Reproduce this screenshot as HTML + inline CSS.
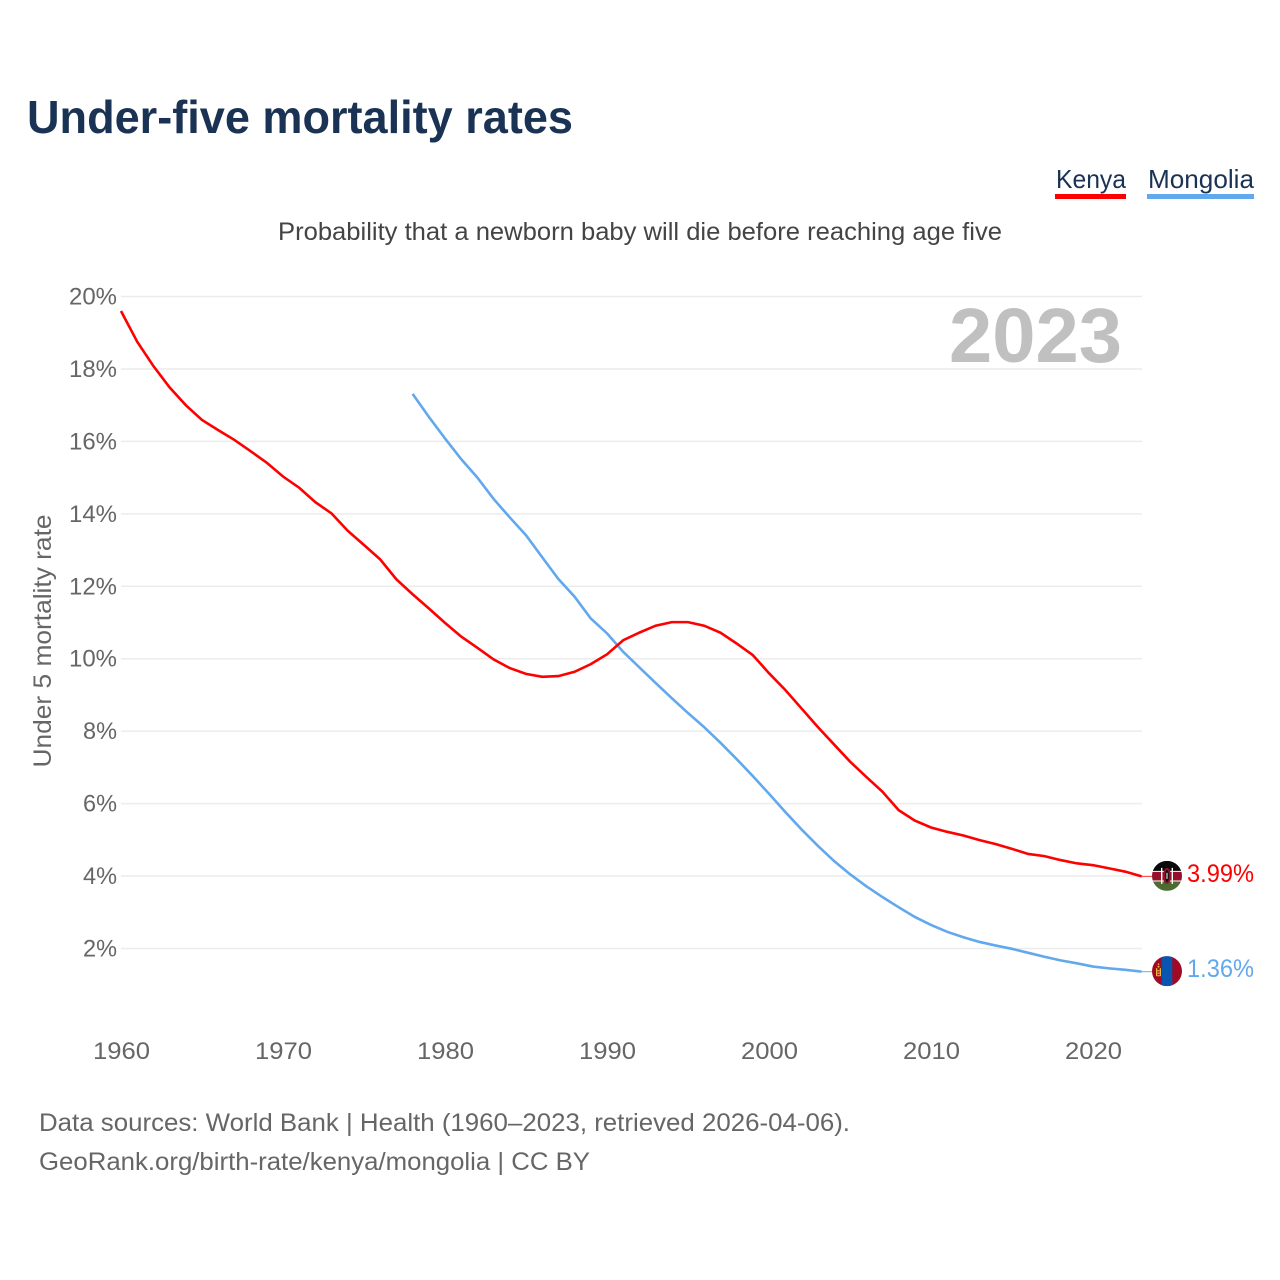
<!DOCTYPE html>
<html lang="en">
<head>
<meta charset="utf-8">
<title>Under-five mortality rates</title>
<style>
html,body{margin:0;padding:0;background:#fff;width:1280px;height:1280px;overflow:hidden}
svg{display:block}
text{font-family:"Liberation Sans",sans-serif}
</style>
</head>
<body>
<svg id="chart" xmlns="http://www.w3.org/2000/svg" width="1280" height="1280" viewBox="0 0 1280 1280">
  <rect width="1280" height="1280" fill="#fff"/>
  <defs>
    <clipPath id="flag-clip"><circle cx="0" cy="0" r="15"/></clipPath>
  </defs>
  <text x="27" y="133" font-size="46" font-weight="700" fill="#1a3354" textLength="546" lengthAdjust="spacingAndGlyphs">Under-five mortality rates</text>

  <g>
    <text x="1056" y="188" font-size="26" fill="#1a3354" textLength="70" lengthAdjust="spacingAndGlyphs">Kenya</text>
    <rect x="1055" y="194" width="71" height="5" fill="#ff0000"/>
  </g>
  <g>
    <text x="1148" y="188" font-size="26" fill="#1a3354" textLength="106" lengthAdjust="spacingAndGlyphs">Mongolia</text>
    <rect x="1147" y="194" width="107" height="5" fill="#62a8ee"/>
  </g>

  <text x="278" y="240" font-size="25" fill="#444" textLength="724" lengthAdjust="spacingAndGlyphs">Probability that a newborn baby will die before reaching age five</text>

  <g id="grid"></g>
  <g id="y-ticks"></g>
  <g id="x-ticks"></g>

  <text transform="translate(51,641) rotate(-90)" text-anchor="middle" font-size="25" fill="#666" textLength="253" lengthAdjust="spacingAndGlyphs">Under 5 mortality rate</text>

  <text x="949" y="362" font-size="77" font-weight="700" fill="#c0c0c0" textLength="173" lengthAdjust="spacingAndGlyphs">2023</text>

  <g id="series"></g>

  <g id="flag-kenya">
    <g clip-path="url(#flag-clip)">
      <rect x="-15" y="-15" width="30" height="30" fill="#fff"/>
      <rect x="-15" y="-15" width="30" height="10" fill="#0a0a0a"/>
      <rect x="-15" y="-4" width="30" height="8.6" fill="#96102c"/>
      <rect x="-15" y="5.6" width="30" height="9.4" fill="#4c6b30"/>
      <rect x="-6" y="-8" width="1.4" height="16" fill="#fff"/>
      <rect x="4.6" y="-8" width="1.4" height="16" fill="#fff"/>
      <ellipse cx="0" cy="0" rx="4" ry="8" fill="#96102c"/>
      <ellipse cx="0" cy="0" rx="2" ry="6" fill="#111"/>
      <rect x="-0.5" y="-3" width="1" height="6" fill="#fff"/>
    </g>
  </g>
  <g id="flag-mongolia">
    <g clip-path="url(#flag-clip)">
      <rect x="-15" y="-15" width="30" height="30" fill="#a00a25"/>
      <rect x="-5.3" y="-15" width="10.6" height="30" fill="#0a55b0"/>
      <rect x="-11" y="-3" width="1.3" height="8" fill="#e8b83c"/>
      <rect x="-7.3" y="-3" width="1.3" height="8" fill="#e8b83c"/>
      <rect x="-9.5" y="-1" width="2" height="1.2" fill="#e8b83c"/>
      <rect x="-9.5" y="1.5" width="2" height="1.2" fill="#e8b83c"/>
      <rect x="-9.5" y="4" width="2" height="1.2" fill="#e8b83c"/>
      <circle cx="-8.5" cy="-4.5" r="1" fill="#e8b83c"/>
      <circle cx="-8.5" cy="-7" r="0.8" fill="#e8b83c"/>
    </g>
  </g>

  <text id="value-kenya" x="1187" font-size="25" fill="#ff0000" textLength="67" lengthAdjust="spacingAndGlyphs"></text>
  <text id="value-mongolia" x="1187" font-size="25" fill="#62a8ee" textLength="67" lengthAdjust="spacingAndGlyphs"></text>

  <text x="39" y="1131" font-size="25" fill="#666" textLength="811" lengthAdjust="spacingAndGlyphs">Data sources: World Bank | Health (1960–2023, retrieved 2026-04-06).</text>
  <text x="39" y="1170" font-size="25" fill="#666" textLength="551" lengthAdjust="spacingAndGlyphs">GeoRank.org/birth-rate/kenya/mongolia | CC BY</text>
</svg>
<script>
const kenyaStartYear = 1960;
const kenyaValues = [19.6,18.75,18.08,17.49,17.0,16.59,16.31,16.04,15.73,15.41,15.03,14.72,14.32,14.01,13.53,13.14,12.74,12.19,11.78,11.39,10.99,10.61,10.3,9.98,9.74,9.58,9.5,9.52,9.64,9.85,10.12,10.51,10.72,10.91,11.01,11.01,10.91,10.72,10.42,10.1,9.6,9.14,8.63,8.12,7.64,7.16,6.74,6.33,5.82,5.53,5.34,5.22,5.12,4.99,4.88,4.75,4.61,4.55,4.44,4.35,4.30,4.21,4.12,3.99];
const mongoliaStartYear = 1978;
const mongoliaValues = [17.31,16.68,16.08,15.51,15.0,14.41,13.9,13.41,12.8,12.2,11.71,11.11,10.7,10.19,9.76,9.33,8.91,8.5,8.11,7.68,7.23,6.76,6.27,5.77,5.29,4.84,4.42,4.05,3.72,3.42,3.14,2.87,2.65,2.46,2.31,2.18,2.08,1.99,1.88,1.77,1.67,1.59,1.5,1.45,1.41,1.36];
const yTickValues = [2,4,6,8,10,12,14,16,18,20];
const yTickLabels = ["2%","4%","6%","8%","10%","12%","14%","16%","18%","20%"];
const xTickValues = [1960,1970,1980,1990,2000,2010,2020];
const xTickLabels = ["1960","1970","1980","1990","2000","2010","2020"];

const SVG_NS = 'http://www.w3.org/2000/svg';
const PLOT_LEFT = 121, PX_PER_YEAR = 16.2, Y_TOP = 296.5, PX_PER_UNIT = 36.22, PLOT_RIGHT = 1142, TAIL_END = 1152;
function xScale(year){ return PLOT_LEFT + (year - 1960) * PX_PER_YEAR; }
function yScale(v){ return Y_TOP + (20 - v) * PX_PER_UNIT; }
function make(tag, parent){ const el = document.createElementNS(SVG_NS, tag); parent.appendChild(el); return el; }

const gridGroup = document.getElementById('grid');
const yTickGroup = document.getElementById('y-ticks');
yTickValues.forEach(function(v, i){
  const line = make('line', gridGroup);
  
  
  line.setAttribute('x1', PLOT_LEFT);
  line.setAttribute('x2', PLOT_RIGHT);
  line.setAttribute('y1', yScale(v));
  line.setAttribute('y2', yScale(v));
  line.setAttribute('stroke', '#ececec');
  line.setAttribute('stroke-width', '1.5');
  const t = make('text', yTickGroup);
  
  
  t.setAttribute('x', 117);
  t.setAttribute('y', yScale(v) + 8);
  t.setAttribute('text-anchor', 'end');
  t.setAttribute('font-size', '24.5');
  t.setAttribute('fill', '#666');
  t.setAttribute('textLength', yTickLabels[i].length === 3 ? 48 : 34);
  t.setAttribute('lengthAdjust', 'spacingAndGlyphs');
  t.textContent = yTickLabels[i];
});

const xTickGroup = document.getElementById('x-ticks');
xTickValues.forEach(function(year, i){
  const t = make('text', xTickGroup);
  
  
  t.setAttribute('x', xScale(year) + 0.5);
  t.setAttribute('y', 1059);
  t.setAttribute('text-anchor', 'middle');
  t.setAttribute('font-size', '24.5');
  t.setAttribute('fill', '#666');
  t.setAttribute('textLength', 57);
  t.setAttribute('lengthAdjust', 'spacingAndGlyphs');
  t.textContent = xTickLabels[i];
});

function linePath(startYear, values){
  return values.map(function(v, i){
    return (i ? 'L' : 'M') + xScale(startYear + i).toFixed(2) + ' ' + yScale(v).toFixed(2);
  }).join(' ');
}

const seriesGroup = document.getElementById('series');

const kenyaLast = kenyaValues[kenyaValues.length - 1];
const mongoliaLast = mongoliaValues[mongoliaValues.length - 1];

const kenyaTail = make('line', seriesGroup);


kenyaTail.setAttribute('x1', xScale(kenyaStartYear + kenyaValues.length - 1));
kenyaTail.setAttribute('x2', TAIL_END);
kenyaTail.setAttribute('y1', yScale(kenyaLast));
kenyaTail.setAttribute('y2', yScale(kenyaLast));
kenyaTail.setAttribute('stroke', '#ff0000');
kenyaTail.setAttribute('stroke-width', '1.2');
kenyaTail.setAttribute('opacity', '0.7');

const mongoliaTail = make('line', seriesGroup);


mongoliaTail.setAttribute('x1', xScale(mongoliaStartYear + mongoliaValues.length - 1));
mongoliaTail.setAttribute('x2', TAIL_END);
mongoliaTail.setAttribute('y1', yScale(mongoliaLast));
mongoliaTail.setAttribute('y2', yScale(mongoliaLast));
mongoliaTail.setAttribute('stroke', '#62a8ee');
mongoliaTail.setAttribute('stroke-width', '1.2');
mongoliaTail.setAttribute('opacity', '0.8');

const mongoliaLine = make('path', seriesGroup);


mongoliaLine.setAttribute('d', linePath(mongoliaStartYear, mongoliaValues));
mongoliaLine.setAttribute('fill', 'none');
mongoliaLine.setAttribute('stroke', '#62a8ee');
mongoliaLine.setAttribute('stroke-width', '2.6');

const kenyaLine = make('path', seriesGroup);


kenyaLine.setAttribute('d', linePath(kenyaStartYear, kenyaValues));
kenyaLine.setAttribute('fill', 'none');
kenyaLine.setAttribute('stroke', '#ff0000');
kenyaLine.setAttribute('stroke-width', '2.6');

document.getElementById('flag-kenya').setAttribute('transform', 'translate(1167 ' + (yScale(kenyaLast) - 0.5) + ')');
document.getElementById('flag-mongolia').setAttribute('transform', 'translate(1167 ' + (yScale(mongoliaLast) - 0.5) + ')');

const kenyaLabel = document.getElementById('value-kenya');
kenyaLabel.setAttribute('y', yScale(kenyaLast) + 5.5);
kenyaLabel.textContent = kenyaLast.toFixed(2) + '%';
const mongoliaLabel = document.getElementById('value-mongolia');
mongoliaLabel.setAttribute('y', yScale(mongoliaLast) + 5.5);
mongoliaLabel.textContent = mongoliaLast.toFixed(2) + '%';
</script>
</body>
</html>
